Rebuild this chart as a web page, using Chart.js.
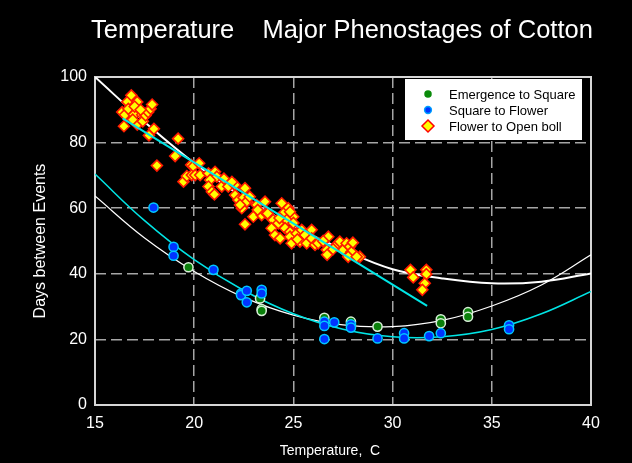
<!DOCTYPE html>
<html>
<head>
<meta charset="utf-8">
<script src="https://cdn.jsdelivr.net/npm/chart.js@4.4.0/dist/chart.umd.js"></script>
<style>
  html, body { margin: 0; padding: 0; background: #000; }
  #wrap { width: 632px; height: 463px; }
</style>
</head>
<body>
<div id="wrap"><canvas id="chart" width="632" height="463"></canvas></div>
<script>
// tick labels
const tempTicks = [15, 20, 25, 30, 35, 40];
const dayTicks = [0, 20, 40, 60, 80, 100];

// Emergence to Square
const esTemp = [19.71, 23.32, 23.4, 23.4, 26.56, 27.9, 29.24, 32.43, 32.43, 33.8, 33.8];
const esDays = [42.0, 32.5, 29.2, 28.7, 26.6, 25.4, 23.9, 26.1, 24.9, 28.3, 26.9];

// Square to Flower
const sfTemp = [17.95, 18.96, 18.96, 20.97, 22.36, 22.36, 22.65, 22.65, 23.4, 23.4, 26.56, 26.56, 26.56,
  27.06, 27.9, 27.9, 29.24, 30.58, 30.58, 31.84, 32.43, 35.87, 35.87];
const sfDays = [60.2, 48.2, 45.5, 41.2, 34.0, 33.5, 34.8, 31.3, 35.1, 34.0, 25.4, 24.1, 20.1,
  25.2, 24.6, 23.6, 20.3, 21.9, 20.3, 21.0, 21.9, 24.3, 23.1];

// Flower to Open boll
const foTemp = [16.37, 16.46, 16.51, 16.63, 16.68, 16.83, 16.96, 17.13, 17.13, 17.38, 17.41, 17.55, 17.68, 17.8,
  17.88, 17.97, 17.72, 17.0, 16.9, 17.3,
  18.12, 19.04, 19.19, 19.46, 19.63, 19.85, 19.88, 19.96, 20.05,
  20.25, 20.3, 20.72, 21.05, 21.14, 20.8, 20.72, 20.89, 21.02, 21.39, 21.72, 22.06, 22.06, 22.23, 21.5, 21.9,
  22.56, 22.48, 22.65, 22.4, 22.31, 23.15, 23.57, 22.98, 23.4, 23.65, 22.56, 23.7, 23.98, 23.9, 23.2, 22.8,
  24.07, 24.33, 24.41, 24.74, 24.49, 24.99, 24.83, 24.66, 24.24, 24.58, 24.83, 24.83, 24.91, 25.17, 25.42,
  25.58, 25.33, 25.67, 25.92, 25.92, 26.09, 26.25, 24.3, 25.0, 25.2,
  26.68, 26.76, 27.18, 27.34, 27.51, 27.68, 27.85, 27.93, 27.76, 28.35, 28.19, 26.5, 27.0, 26.7, 28.0,
  30.9, 31.04, 31.7, 31.7, 31.62, 31.5];
const foDays = [89.3, 85.0, 88.5, 92.4, 90.3, 94.4, 88.5, 92.4, 85.5, 88.5, 86.5, 88.3, 89.3, 90.3,
  91.6, 84.2, 82.2, 91.0, 87.0, 90.0,
  73.0, 75.9, 81.2, 68.1, 69.8, 73.2, 70.1, 72.8, 70.1,
  73.7, 70.1, 70.6, 71.1, 69.6, 68.6, 66.6, 65.0, 64.2, 66.6, 66.6, 67.1, 64.0, 62.5, 69.0, 68.0,
  66.1, 63.2, 62.0, 60.0, 61.0, 61.0, 62.0, 57.4, 57.9, 58.4, 55.1, 58.4, 56.4, 53.9, 59.5, 63.5,
  51.8, 50.8, 61.5, 60.0, 58.4, 57.4, 58.9, 56.4, 55.4, 53.9, 52.8, 51.3, 49.3, 52.3, 53.4,
  51.8, 49.8, 49.3, 53.4, 50.8, 48.8, 49.3, 57.0, 55.5, 50.5,
  47.3, 51.3, 48.8, 49.8, 47.3, 49.3, 48.3, 46.7, 45.2, 45.2, 45.2, 50.0, 47.5, 45.8, 49.5,
  41.2, 38.9, 41.2, 39.9, 37.1, 35.1];

// fitted curves
const curveTemp = [15, 17.5, 20, 22.5, 25, 27.5, 30, 32.5, 35, 37.5, 40];
const esCurve = [63.7, 50.9, 40.7, 32.8, 27.4, 24.4, 23.9, 25.8, 30.2, 36.6, 45.8];
const sfCurve = [70.4, 56.2, 44.3, 34.9, 27.8, 23.1, 20.8, 20.8, 23.0, 27.8, 34.6];
const foCurve = [100, 86.3, 73.8, 63.2, 54.6, 47.4, 41.4, 38.6, 37.1, 37.6, 40.1];
const foLineTemp = [16.39, 31.74];
const foLineDays = [87.4, 30.2];

const pts = (xs, ys) => xs.map((x, i) => ({ x: x, y: ys[i] }));
const FONT = 'Arial, "Liberation Sans", sans-serif';

const framePlugin = {
  id: 'frame',
  beforeDatasetsDraw(chart) {
    const a = chart.chartArea;
    const ctx = chart.ctx;
    ctx.save();
    ctx.strokeStyle = '#d6d6d6';
    ctx.lineWidth = 2;
    ctx.strokeRect(a.left, a.top, a.right - a.left, a.bottom - a.top);
    ctx.restore();
  }
};

const legendBox = {
  id: 'legendBox',
  afterDatasetsDraw(chart) {
    const ctx = chart.ctx;
    ctx.save();
    ctx.fillStyle = '#ffffff';
    ctx.fillRect(405, 79, 177, 61);
    const rows = [
      { text: 'Emergence to Square', y: 94, kind: 'circle', fill: '#0a8a0a', stroke: '#0a8a0a', r: 3 },
      { text: 'Square to Flower', y: 110, kind: 'circle', fill: '#0033ff', stroke: '#00a0ff', r: 3.4 },
      { text: 'Flower to Open boll', y: 126, kind: 'diamond', fill: '#ffff00', stroke: '#ff0000', r: 6 }
    ];
    ctx.font = '13px ' + FONT;
    ctx.textBaseline = 'middle';
    rows.forEach(row => {
      const cx = 428;
      ctx.beginPath();
      if (row.kind === 'circle') {
        ctx.arc(cx, row.y, row.r, 0, Math.PI * 2);
      } else {
        ctx.moveTo(cx, row.y - row.r);
        ctx.lineTo(cx + row.r, row.y);
        ctx.lineTo(cx, row.y + row.r);
        ctx.lineTo(cx - row.r, row.y);
        ctx.closePath();
      }
      ctx.fillStyle = row.fill;
      ctx.fill();
      ctx.lineWidth = 1.5;
      ctx.strokeStyle = row.stroke;
      ctx.stroke();
      ctx.fillStyle = '#000000';
      ctx.fillText(row.text, 449, row.y + 1);
    });
    ctx.restore();
  }
};

// chart title and x-axis title
const titlePlugin = {
  id: 'topTitle',
  afterDraw(chart) {
    const a = chart.chartArea;
    const ctx = chart.ctx;
    ctx.save();
    ctx.fillStyle = '#ffffff';
    ctx.textAlign = 'center';
    ctx.textBaseline = 'middle';
    ctx.font = '25.5px ' + FONT;
    ctx.fillText('Temperature    Major Phenostages of Cotton', (a.left + a.right) / 2 - 1, 31);
    ctx.font = '14px ' + FONT;
    ctx.fillText('Temperature,  C', (a.left + a.right) / 2 - 13, 451);
    ctx.restore();
  }
};

const gridColor = edge => ctx => (ctx.tick && edge.includes(ctx.tick.value)) ? 'rgba(0,0,0,0)' : '#a6a6a6';

const config = {
  type: 'scatter',
  data: {
    datasets: [
      {
        label: 'Flower to Open boll fit',
        type: 'line',
        data: pts(foLineTemp, foLineDays),
        borderColor: '#00e5e5',
        borderWidth: 2,
        pointRadius: 0,
        fill: false,
        order: 0
      },
      {
        label: 'Flower to Open boll',
        data: pts(foTemp, foDays),
        pointStyle: 'rectRot',
        pointRadius: 5.5,
        backgroundColor: '#ffff00',
        borderColor: '#ff1a00',
        borderWidth: 1.6,
        order: 1
      },
      {
        label: 'Square to Flower',
        data: pts(sfTemp, sfDays),
        pointStyle: 'circle',
        pointRadius: 4.6,
        backgroundColor: '#0033ff',
        borderColor: '#00c8ff',
        borderWidth: 1.5,
        order: 2
      },
      {
        label: 'Emergence to Square',
        data: pts(esTemp, esDays),
        pointStyle: 'circle',
        pointRadius: 4.6,
        backgroundColor: '#0a800a',
        borderColor: '#d8f0d8',
        borderWidth: 1.5,
        order: 3
      },
      {
        label: 'Square to Flower curve',
        type: 'line',
        data: pts(curveTemp, sfCurve),
        borderColor: '#00e5e5',
        borderWidth: 1.5,
        pointRadius: 0,
        tension: 0.4,
        fill: false,
        order: 4
      },
      {
        label: 'Emergence to Square curve',
        type: 'line',
        data: pts(curveTemp, esCurve),
        borderColor: '#ffffff',
        borderWidth: 1.2,
        pointRadius: 0,
        tension: 0.4,
        fill: false,
        order: 5
      },
      {
        label: 'Flower to Open boll curve',
        type: 'line',
        data: pts(curveTemp, foCurve),
        borderColor: '#ffffff',
        borderWidth: 2,
        pointRadius: 0,
        tension: 0.4,
        fill: false,
        order: 6
      }
    ]
  },
  options: {
    responsive: false,
    animation: false,
    devicePixelRatio: 1,
    layout: { padding: { left: 0, right: 41, top: 77, bottom: 0 } },
    plugins: {
      legend: { display: false },
      tooltip: { enabled: false },
      title: { display: false }
    },
    scales: {
      x: {
        type: 'linear',
        min: tempTicks[0],
        max: tempTicks[tempTicks.length - 1],
        afterBuildTicks: s => { s.ticks = tempTicks.map(v => ({ value: v })); },
        afterFit: s => { s.height = 58; },
        grid: { color: gridColor([15, 40]), lineWidth: 1.5, drawTicks: false },
        border: { display: false, dash: [11, 5] },
        ticks: { color: '#ffffff', font: { family: FONT, size: 16 }, padding: 9 },
        title: { display: false }
      },
      y: {
        type: 'linear',
        min: dayTicks[0],
        max: dayTicks[dayTicks.length - 1],
        afterBuildTicks: s => { s.ticks = dayTicks.map(v => ({ value: v })); },
        afterFit: s => { s.width = 95; },
        grid: { color: gridColor([0, 100]), lineWidth: 1.5, drawTicks: false },
        border: { display: false, dash: [11, 5] },
        ticks: { color: '#ffffff', font: { family: FONT, size: 16 }, padding: 8 },
        title: {
          display: true,
          text: 'Days between Events',
          color: '#ffffff',
          font: { family: FONT, size: 16 },
          padding: { top: 31, bottom: 0 }
        }
      }
    }
  },
  plugins: [framePlugin, legendBox, titlePlugin]
};

new Chart(document.getElementById('chart').getContext('2d'), config);
</script>
</body>
</html>
